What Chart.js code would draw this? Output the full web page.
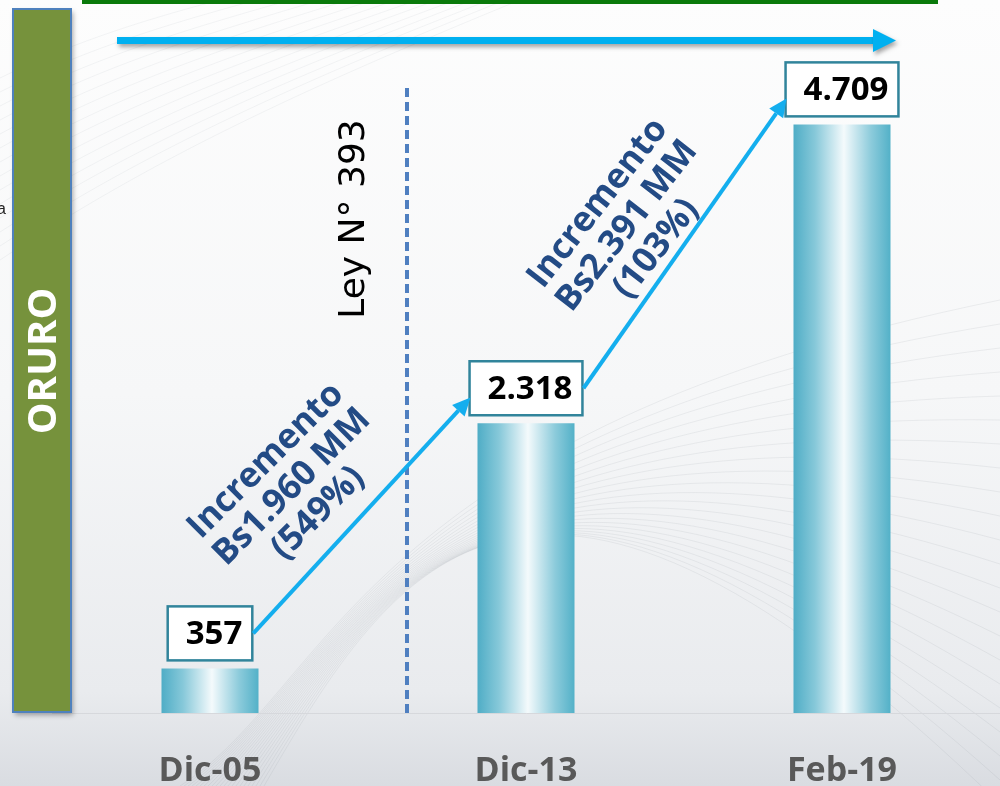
<!DOCTYPE html>
<html>
<head>
<meta charset="utf-8">
<script src="https://cdn.jsdelivr.net/npm/chart.js@4.4.1/dist/chart.umd.min.js"></script>
<style>
  html, body { margin: 0; padding: 0; background: #ffffff; }
  #wrap { width: 1000px; height: 786px; position: relative; }
  canvas { display: block; }
</style>
</head>
<body>
<div id="wrap"><canvas id="c" width="1000" height="786"></canvas></div>
<script>
// ---- data ----
const categories = ['Dic-05', 'Dic-13', 'Feb-19'];
const values = [357, 2318, 4709];
const valueLabels = ['357', '2.318', '4.709'];
const incrementTexts = [
  ['Incremento', 'Bs1.960 MM', '(549%)'],
  ['Incremento', 'Bs2.391 MM', '(103%)']
];
const sideTitle = 'ORURO';
const lawLabel = 'Ley N° 393';

// ---- helpers ----
function barGradient(ctx, cx, half) {
  const g = ctx.createLinearGradient(cx - half, 0, cx + half, 0);
  g.addColorStop(0, '#4fadc6');
  g.addColorStop(0.22, '#86c8d9');
  g.addColorStop(0.52, '#f4fafc');
  g.addColorStop(0.8, '#8ccbdb');
  g.addColorStop(1, '#53b1c8');
  return g;
}

function arrowLine(ctx, x1, y1, x2, y2, color, lw, headLen, headW) {
  const a = Math.atan2(y2 - y1, x2 - x1);
  const bx = x2 - Math.cos(a) * headLen, by = y2 - Math.sin(a) * headLen;
  ctx.save();
  ctx.strokeStyle = color; ctx.fillStyle = color; ctx.lineWidth = lw;
  ctx.beginPath(); ctx.moveTo(x1, y1); ctx.lineTo(bx, by); ctx.stroke();
  ctx.beginPath();
  ctx.moveTo(x2, y2);
  ctx.lineTo(bx + Math.sin(a) * headW / 2, by - Math.cos(a) * headW / 2);
  ctx.lineTo(bx - Math.sin(a) * headW / 2, by + Math.cos(a) * headW / 2);
  ctx.closePath(); ctx.fill();
  ctx.restore();
}

const decorPlugin = {
  id: 'decor',
  beforeDraw(chart) {
    const ctx = chart.ctx;
    const W = chart.width, H = chart.height;
    ctx.save();
    // background
    const bg = ctx.createLinearGradient(0, 0, 0, H);
    bg.addColorStop(0, '#fdfdfd');
    bg.addColorStop(0.5, '#f6f7f8');
    bg.addColorStop(0.88, '#e9ebee');
    bg.addColorStop(1, '#d9dce1');
    ctx.fillStyle = bg;
    ctx.fillRect(0, 0, W, H);
    // faint wave lines
    ctx.lineWidth = 1;
    for (let k = 0; k < 22; k++) {
      ctx.strokeStyle = 'rgba(140,145,155,0.13)';
      ctx.beginPath();
      ctx.moveTo(180 + k * 4, 786);
      ctx.bezierCurveTo(330 + k * 3, 690 - k * 6, 360 + k * 8, 430 - k * 4, 1000, 300 + k * 24);
      ctx.stroke();
    }
    for (let k = 0; k < 14; k++) {
      ctx.strokeStyle = 'rgba(150,155,165,0.10)';
      ctx.beginPath();
      ctx.moveTo(0, 260 - k * 14);
      ctx.bezierCurveTo(150, 160 - k * 12, 300, 90 - k * 8, 520, 0 - k * 6);
      ctx.stroke();
    }
    // top green line
    ctx.fillStyle = '#0b7a0b';
    ctx.fillRect(82, 0, 856, 4);
    // top blue arrow with shadow
    ctx.save();
    ctx.shadowColor = 'rgba(0,0,0,0.35)';
    ctx.shadowBlur = 4; ctx.shadowOffsetX = 2; ctx.shadowOffsetY = 3;
    ctx.fillStyle = '#00b0f0';
    ctx.fillRect(117, 37, 758, 7);
    ctx.beginPath();
    ctx.moveTo(873, 29); ctx.lineTo(896, 40.5); ctx.lineTo(873, 52); ctx.closePath();
    ctx.fill();
    ctx.restore();
    // stray letter at the left edge
    ctx.fillStyle = '#222';
    ctx.font = '16px "Liberation Sans", Arial, sans-serif';
    ctx.textBaseline = 'alphabetic';
    ctx.fillText('a', -3, 214);
    ctx.restore();
  },
  afterDatasetsDraw(chart) {
    const ctx = chart.ctx;
    const meta = chart.getDatasetMeta(0);
    ctx.save();
    // dashed law line
    ctx.strokeStyle = '#4f7fc0';
    ctx.lineWidth = 4;
    ctx.setLineDash([9, 5]);
    ctx.beginPath(); ctx.moveTo(407, 88); ctx.lineTo(407, chart.chartArea.bottom); ctx.stroke();
    ctx.setLineDash([]);
    // law label
    ctx.save();
    ctx.translate(355, 219);
    ctx.rotate(-Math.PI / 2);
    ctx.fillStyle = '#000';
    ctx.font = '36px "DejaVu Sans", sans-serif';
    ctx.textAlign = 'center'; ctx.textBaseline = 'middle';
    ctx.fillText(lawLabel, 0, 0);
    ctx.restore();

    // value boxes
    ctx.font = 'bold 33px "Open Sans", sans-serif';
    const boxes = meta.data.map((el, i) => {
      const tw = ctx.measureText(valueLabels[i]).width;
      const w = tw + 28, h = 54;
      const bottom = el.y - 8;
      return { x: el.x - w / 2, y: bottom - h, w, h, tw };
    });
    boxes.forEach((b, i) => {
      ctx.fillStyle = '#ffffff';
      ctx.fillRect(b.x, b.y, b.w, b.h);
      ctx.strokeStyle = '#31849b';
      ctx.lineWidth = 2.5;
      ctx.strokeRect(b.x, b.y, b.w, b.h);
      ctx.fillStyle = '#000';
      ctx.textAlign = 'right'; ctx.textBaseline = 'middle';
      ctx.fillText(valueLabels[i], b.x + b.w - 10, b.y + b.h / 2 + 1);
    });
    // connecting arrows
    for (let i = 0; i < boxes.length - 1; i++) {
      const a = boxes[i], b = boxes[i + 1];
      arrowLine(ctx, a.x + a.w + 1, a.y + a.h / 2, b.x + 1, b.y + b.h * 0.67, '#14aeee', 4, 18, 17);
    }
    // increment texts
    const textPos = [
      { x: 292, y: 487, ang: -45 },
      { x: 627, y: 226, ang: -52 }
    ];
    incrementTexts.forEach((lines, i) => {
      const p = textPos[i];
      ctx.save();
      ctx.translate(p.x, p.y);
      ctx.rotate(p.ang * Math.PI / 180);
      ctx.fillStyle = '#234b85';
      ctx.font = 'bold 35px "Open Sans", sans-serif';
      ctx.textAlign = 'center'; ctx.textBaseline = 'middle';
      const lh = 37;
      lines.forEach((t, j) => ctx.fillText(t, 0, (j - 1) * lh));
      ctx.restore();
    });
    ctx.restore();
  },
  afterDraw(chart) {
    const ctx = chart.ctx;
    ctx.save();
    // green side panel
    ctx.shadowColor = 'rgba(0,0,0,0.35)';
    ctx.shadowBlur = 5; ctx.shadowOffsetX = 2; ctx.shadowOffsetY = 3;
    ctx.fillStyle = '#76923c';
    ctx.fillRect(13, 9, 58, 703);
    ctx.shadowColor = 'transparent';
    ctx.strokeStyle = '#4f81bd';
    ctx.lineWidth = 2;
    ctx.strokeRect(13, 9, 58, 703);
    ctx.translate(43, 361);
    ctx.rotate(-Math.PI / 2);
    ctx.fillStyle = '#ffffff';
    ctx.font = 'bold 40px "Open Sans", sans-serif';
    ctx.textAlign = 'center'; ctx.textBaseline = 'middle';
    ctx.fillText(sideTitle, 0, 2);
    ctx.restore();
  }
};

const chart = new Chart(document.getElementById('c'), {
  type: 'bar',
  data: {
    labels: categories,
    datasets: [{
      data: values,
      backgroundColor: (c) => {
        const ch = c.chart;
        const xs = ch.scales && ch.scales.x;
        if (!xs || c.dataIndex === undefined || !isFinite(xs.getPixelForValue(c.dataIndex))) return '#7cc3d5';
        const cx = xs.getPixelForValue(c.dataIndex);
        const half = (xs.width / categories.length) * 0.307 / 2;
        return barGradient(ch.ctx, cx, half);
      },
      borderWidth: 0,
      barPercentage: 0.307,
      categoryPercentage: 1
    }]
  },
  options: {
    responsive: false,
    animation: false,
    devicePixelRatio: 1,
    layout: { padding: { left: 52, right: 0, top: 13, bottom: 0 } },
    plugins: { legend: { display: false }, tooltip: { enabled: false } },
    scales: {
      x: {
        grid: { display: false },
        border: { display: true, color: '#d6d8dc', width: 1 },
        ticks: {
          color: '#595959',
          font: { family: '"Open Sans", sans-serif', size: 34, weight: 'bold', lineHeight: 1.2 },
          padding: 30,
          maxRotation: 0
        },
        afterFit: (s) => { s.height = 73; }
      },
      y: {
        display: false,
        min: 0,
        max: 5600
      }
    }
  },
  plugins: [decorPlugin]
});
</script>
</body>
</html>
